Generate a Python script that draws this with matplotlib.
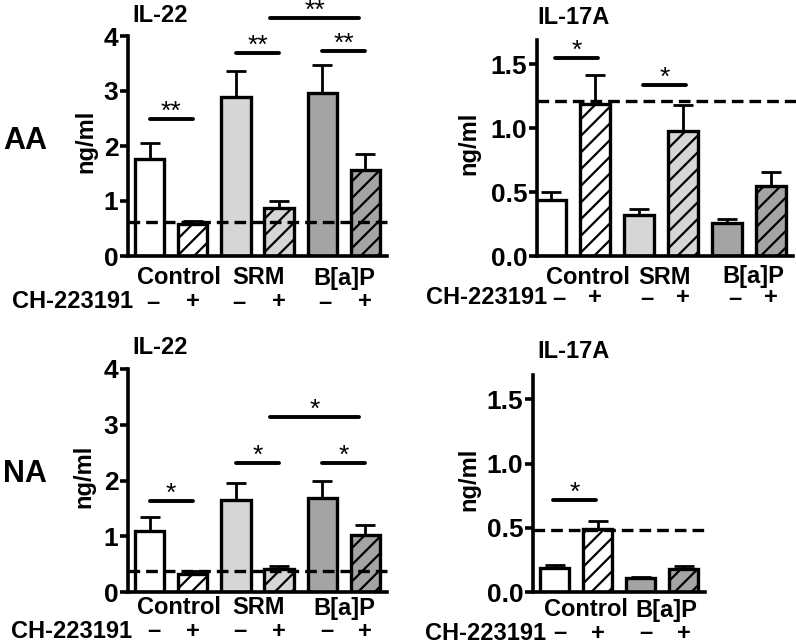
import numpy as np
import matplotlib
matplotlib.use("Agg")
from matplotlib import pyplot as plt

plt.rcParams['font.family'] = ['Liberation Sans', 'DejaVu Sans']
plt.rcParams['font.weight'] = 'bold'
plt.rcParams['hatch.linewidth'] = 1.6

# ---- data ----
# AA, IL-22
aa_il22_mean = [1.77, 0.58, 2.89, 0.87, 2.97, 1.57]
aa_il22_sem = [0.28, 0.06, 0.48, 0.13, 0.51, 0.29]
aa_il22_base = 0.61
aa_il22_sig = [(0, 1, 2.5, '**'), (2, 3, 3.7, '**'), (4, 5, 3.73, '**'), (2.8, 4.85, 4.33, '**')]

# AA, IL-17A
aa_il17_mean = [0.44, 1.19, 0.32, 0.98, 0.26, 0.55]
aa_il17_sem = [0.06, 0.23, 0.05, 0.20, 0.03, 0.11]
aa_il17_base = 1.21
aa_il17_sig = [(0.1, 1.07, 1.55, '*'), (2.1, 3.07, 1.34, '*')]

# NA, IL-22
na_il22_mean = [1.10, 0.33, 1.65, 0.41, 1.69, 1.02]
na_il22_sem = [0.25, 0.05, 0.31, 0.06, 0.30, 0.19]
na_il22_base = 0.38
na_il22_sig = [(0, 1, 1.63, '*'), (2, 3, 2.31, '*'), (4, 5, 2.31, '*'), (2.8, 4.85, 3.14, '*')]

# NA, IL-17A (no SRM group)
na_il17_mean = [0.19, 0.49, 0.11, 0.18]
na_il17_sem = [0.02, 0.06, 0.01, 0.02]
na_il17_base = 0.48
na_il17_sig = [(-0.03, 0.97, 0.72, '*')]

groups6 = ['Control', 'SRM', 'B[a]P']
groups4 = ['Control', 'B[a]P']
signs6 = ['\u2013', '+', '\u2013', '+', '\u2013', '+']
signs4 = ['\u2013', '+', '\u2013', '+']

WHITE, LIGHT, MID = '#ffffff', '#d6d6d6', '#a4a4a4'
colors6 = [WHITE, WHITE, LIGHT, LIGHT, MID, MID]
colors4 = [WHITE, WHITE, MID, MID]
hatch6 = [None, '//', None, '//', None, '//']
hatch4 = [None, '//', None, '//']

W, H = 796, 643
fig = plt.figure(figsize=(W / 100, H / 100), dpi=100)


def px_axes(left, right, bottom, top):
    return fig.add_axes([left / W, 1 - bottom / H, (right - left) / W, (bottom - top) / H])


def panel(ax, means, sems, colors, hatches, base, ylim, xlim, yticks, ytl, sigs,
          groups, group_x, signs, ch_x, lab_off, sign_off, ylab_x, minus_dx,
          bw=0.68, base_ext=1.0):
    x = np.arange(len(means))
    ax.errorbar(x, means, yerr=[np.zeros(len(sems)), sems], fmt='none', ecolor='black',
                elinewidth=2.0, capsize=7, capthick=2.0, zorder=1)
    for xi, m, c, h in zip(x, means, colors, hatches):
        ax.bar(xi, m, width=bw, color=c, edgecolor='black', linewidth=2.4, hatch=h, zorder=2)
    ax.axhline(base, xmin=0, xmax=base_ext, color='black', lw=2.4, ls=(0, (3.5, 1.8)),
               zorder=3, clip_on=False)
    ax.set_xlim(*xlim)
    ax.set_ylim(*ylim)
    ax.set_yticks(yticks)
    ax.set_yticklabels(ytl)
    ax.set_xticks([])
    for s in ['top', 'right']:
        ax.spines[s].set_visible(False)
    for s in ['left', 'bottom']:
        ax.spines[s].set_linewidth(2.6)
    ax.tick_params(axis='y', length=6, width=2.6, labelsize=19, pad=1)
    ax.set_ylabel('ng/ml', fontsize=17, fontweight='bold')
    ax.yaxis.set_label_coords(ylab_x, 0.52)
    for x0, x1, y, lab in sigs:
        ax.plot([x0, x1], [y, y], color='black', lw=2.8, solid_capstyle='round', clip_on=False)
        ax.annotate(lab, ((x0 + x1) / 2, y), xytext=(0, -5), textcoords='offset pixels',
                    ha='center', va='bottom', fontsize=19, fontweight='normal',
                    annotation_clip=False)
    for g, gx in zip(groups, group_x):
        ax.annotate(g, (gx, 0), xycoords=('data', 'axes fraction'), xytext=(0, -lab_off),
                    textcoords='offset pixels', ha='center', va='center', fontsize=17,
                    annotation_clip=False)
    for xi, s in zip(x, signs):
        dx = minus_dx if s == '\u2013' else 0
        ax.annotate(s, (xi + dx, 0), xycoords=('data', 'axes fraction'), xytext=(0, -sign_off),
                    textcoords='offset pixels', ha='center', va='center', fontsize=17,
                    annotation_clip=False)
    ax.annotate('CH-223191', (ch_x, 0), xycoords=('data', 'axes fraction'),
                xytext=(0, -sign_off), textcoords='offset pixels', ha='right', va='center',
                fontsize=17, annotation_clip=False)


ax1 = px_axes(128, 387, 256, 36)
panel(ax1, aa_il22_mean, aa_il22_sem, colors6, hatch6, aa_il22_base, (0, 4), (-0.5, 5.5),
      [0, 1, 2, 3, 4], ['0', '1', '2', '3', '4'], aa_il22_sig, groups6, [0.67, 2.53, 4.51],
      signs6, -0.38, 22, 46, -0.12, 0.07)

ax2 = px_axes(537, 793, 256, 40)
panel(ax2, aa_il17_mean, aa_il17_sem, colors6, hatch6, aa_il17_base, (0, 1.69), (-0.32, 5.5),
      [0, 0.5, 1.0, 1.5], ['0.0', '0.5', '1.0', '1.5'], aa_il17_sig, groups6, [0.83, 2.57, 4.6],
      signs6, -0.08, 21, 42, -0.223, 0.18, base_ext=1.02)

ax3 = px_axes(128, 387, 592, 369)
panel(ax3, na_il22_mean, na_il22_sem, colors6, hatch6, na_il22_base, (0, 4), (-0.5, 5.5),
      [0, 1, 2, 3, 4], ['0', '1', '2', '3', '4'], na_il22_sig, groups6, [0.67, 2.53, 4.51],
      signs6, -0.4, 16, 39, -0.127, 0.1)

ax4 = px_axes(533, 705, 592, 375)
panel(ax4, na_il17_mean, na_il17_sem, colors4, hatch4, na_il17_base, (0, 1.69), (-0.5, 3.5),
      [0, 0.5, 1.0, 1.5], ['0.0', '0.5', '1.0', '1.5'], na_il17_sig, groups4, [0.73, 2.59],
      signs4, -0.2, 18, 41, -0.308, 0.12)

# panel titles and row labels
fig.text(132 / W, 1 - 16 / H, 'IL-22', ha='left', va='center', fontsize=17)
fig.text(537 / W, 1 - 17 / H, 'IL-17A', ha='left', va='center', fontsize=17)
fig.text(132 / W, 1 - 348 / H, 'IL-22', ha='left', va='center', fontsize=17)
fig.text(537 / W, 1 - 352 / H, 'IL-17A', ha='left', va='center', fontsize=17)
fig.text(25 / W, 1 - 141 / H, 'AA', ha='center', va='center', fontsize=22)
fig.text(25 / W, 1 - 474 / H, 'NA', ha='center', va='center', fontsize=22)

fig.savefig('out.png', dpi=100)
